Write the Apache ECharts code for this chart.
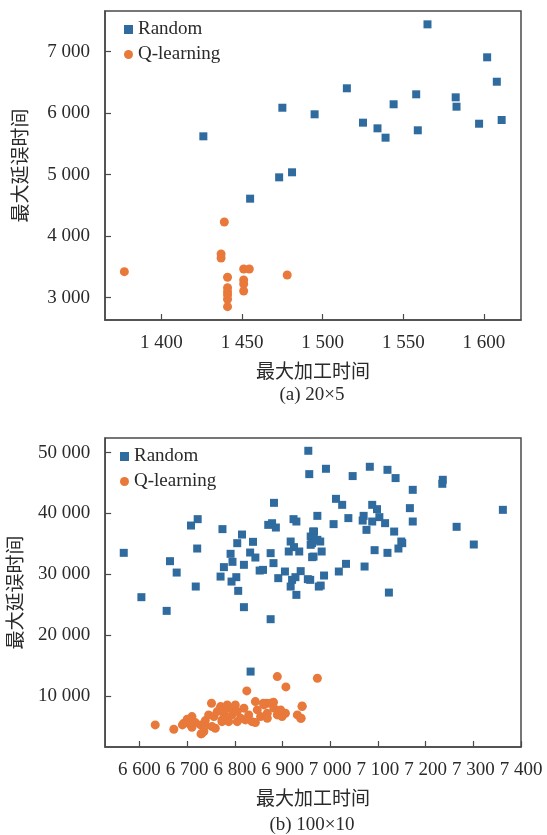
<!DOCTYPE html>
<html><head><meta charset="utf-8">
<script src="https://cdn.jsdelivr.net/npm/echarts@6/dist/echarts.min.js"></script>
<style>html,body{margin:0;padding:0;background:#fff}#c{width:547px;height:835px}</style>
</head><body><div id="c"></div>
<script>
// (a) 20x5
const aRandomX = [1426,1475,1495,1515,1525,1534,1539,1544,1558,1559,1565,1582.5,1583,1597,1602,1608,1611,1473,1481,1455];
const aRandomY = [5624,6089,5982,6405,5846,5754,5602,6145,6307,5722,7445,6258,6106,5829,6909,6512,5889,4957,5039,4610];
const aQX = [1377,1439,1437,1437,1441,1441,1441,1441,1441,1441,1451,1454.5,1451,1451,1451,1478];
const aQY = [3423,4231,3711,3646,3332,3163,3098,3044,2974,2854,3467,3467,3288,3223,3109,3369];
const aXTicks = [1400,1450,1500,1550,1600];
const aYTicks = [3000,4000,5000,6000,7000];
// (b) 100x10
const bRandomX = [6567,6604,6657,6664,6678,6708,6722,6721,6718,6774,6770,6777,6791,6795,6805,6815,6793,6803,6807,6819,6819,6832,6838,6843,6852,6859,6875,6875,6881,6870,6878,6886,6882,6891,6905,6917,6913,6924,6935,6923,6929,6917,6920,6927,6938,6929,6953,6954,6956,6973,6959,6966,6959,6962,6976,6973,6991,7047,7083,7120,7137,7173,7236,7235,7362,7265,7301,7012,7025,7007,7038,7070,7068,7076,7088,7098,7103,7088,7115,7134,7167,7173,7149,7151,7143,7093,7120,7072,7033,7018,6987,6980,7123,6964,6965,6979,6982,6965,6962,6958,6833];
const bRandomY = [33520,26230,23980,32150,30280,38010,39060,34230,27980,37420,29620,31170,33360,32040,35110,36530,28800,29520,27270,31550,24590,33570,35330,32750,30610,30720,22610,33470,31830,38120,38390,37680,41740,29360,30450,35380,33740,34460,33740,39060,38670,27980,29080,29520,30510,26610,29190,50300,46460,39600,36200,37020,34840,32810,27980,35660,47340,46140,47670,47170,45810,43880,45530,44870,40590,37800,34890,42400,41410,38240,39230,39600,38830,37300,41410,40700,39390,38670,38400,37020,40870,38670,35380,35110,34230,33960,33520,31270,31710,30450,29790,28140,26990,37020,35940,35380,33740,32910,35110,29080,14000];
const bQX = [6633,6672,6729,6751,6825,6889,6907,6973,6941,6931,6939,6843,6881,6860,6867,6693,6700,6710,6707,6717,6731,6728,6738,6745,6756,6752,6763,6770,6777,6773,6784,6791,6794,6787,6801,6805,6812,6819,6829,6836,6847,6854,6861,6868,6875,6882,6889,6896,6906,6941,6938,6735,6690,6710,6738,6759,6773,6784,6805,6822,6843,6868,6899,6896,6777];
const bQY = [5230,4520,3750,8800,10820,13180,11480,12910,8360,6880,6330,9060,8960,8800,8800,5500,6160,6600,5230,5610,3860,5230,5940,6880,6600,4950,7420,8240,7150,6050,8520,7980,6880,5770,8520,7420,6330,7980,6880,5770,7700,6600,8520,7150,8800,7980,6880,7700,7150,8240,6330,4130,5230,4840,5070,4680,5770,6330,5770,6050,5610,6330,6600,7420,7700];
const bXTicks = [6600,6700,6800,6900,7000,7100,7200,7300,7400];
const bYTicks = [10000,20000,30000,40000,50000];

const BLUE = '#2f6b9e', ORANGE = '#e8793a';
const FONT = "'Liberation Serif','Noto Sans CJK SC',serif";
const TXT = '#2a2a2a', AX = '#4a4a4a';
const zip = (xs, ys) => xs.map((x, i) => [x, ys[i]]);
const fmt = v => String(v).replace(/\B(?=(\d{3})+(?!\d))/g, ' ');

function xAx(grid, min, max, ticks) {
  return {type:'value', gridIndex:grid, min, max,
    name:'最大加工时间', nameLocation:'middle', nameGap:44,
    nameTextStyle:{fontFamily:FONT, fontSize:19, color:TXT},
    axisLine:{show:true, lineStyle:{color:AX, width:1.5}},
    axisTick:{show:true, inside:true, length:6, lineStyle:{color:AX, width:1.2}, customValues:ticks},
    axisLabel:{fontFamily:FONT, fontSize:19, color:TXT, margin:14, customValues:ticks, formatter:fmt},
    splitLine:{show:false}};
}
function yAx(grid, min, max, ticks) {
  return {type:'value', gridIndex:grid, min, max,
    name:'最大延误时间', nameLocation:'middle', nameGap:73, nameRotate:90,
    nameTextStyle:{fontFamily:FONT, fontSize:19, color:TXT},
    axisLine:{show:true, lineStyle:{color:AX, width:1.5}},
    axisTick:{show:true, inside:true, length:6, lineStyle:{color:AX, width:1.2}, customValues:ticks},
    axisLabel:{fontFamily:FONT, fontSize:19, color:TXT, margin:15, customValues:ticks, formatter:fmt},
    splitLine:{show:false}};
}
const legendCommon = {orient:'vertical', itemWidth:9, itemHeight:9, itemGap:6,
  textStyle:{fontFamily:FONT, fontSize:19, color:TXT}, data:['Random','Q-learning']};

const chart = echarts.init(document.getElementById('c'), null, {renderer:'canvas'});
chart.setOption({
  animation:false,
  grid:[
    {left:105, top:11, width:416, height:309, show:true, borderColor:AX, borderWidth:1.5, backgroundColor:'transparent'},
    {left:105, top:438, width:416, height:309, show:true, borderColor:AX, borderWidth:1.5, backgroundColor:'transparent'}
  ],
  xAxis:[xAx(0, 1365, 1623, aXTicks), xAx(1, 6528, 7400, bXTicks)],
  yAxis:[yAx(0, 2637, 7662, aYTicks), yAx(1, 1600, 52400, bYTicks)],
  legend:[
    Object.assign({left:119, top:15}, legendCommon),
    Object.assign({left:115, top:442}, legendCommon)
  ],
  graphic:[
    {type:'text', x:312, y:395, style:{text:'(a) 20×5', font:"19px "+FONT, fill:TXT, align:'center', verticalAlign:'middle'}},
    {type:'text', x:312, y:825, style:{text:'(b) 100×10', font:"19px "+FONT, fill:TXT, align:'center', verticalAlign:'middle'}}
  ],
  series:[
    {name:'Random', type:'scatter', xAxisIndex:0, yAxisIndex:0, symbol:'rect', symbolSize:8, itemStyle:{color:BLUE, opacity:1}, data:zip(aRandomX, aRandomY)},
    {name:'Q-learning', type:'scatter', xAxisIndex:0, yAxisIndex:0, symbol:'circle', symbolSize:9, itemStyle:{color:ORANGE, opacity:1}, data:zip(aQX, aQY)},
    {name:'Random', type:'scatter', xAxisIndex:1, yAxisIndex:1, symbol:'rect', symbolSize:8, itemStyle:{color:BLUE, opacity:1}, data:zip(bRandomX, bRandomY)},
    {name:'Q-learning', type:'scatter', xAxisIndex:1, yAxisIndex:1, symbol:'circle', symbolSize:9, itemStyle:{color:ORANGE, opacity:1}, data:zip(bQX, bQY)}
  ]
});
</script></body></html>
